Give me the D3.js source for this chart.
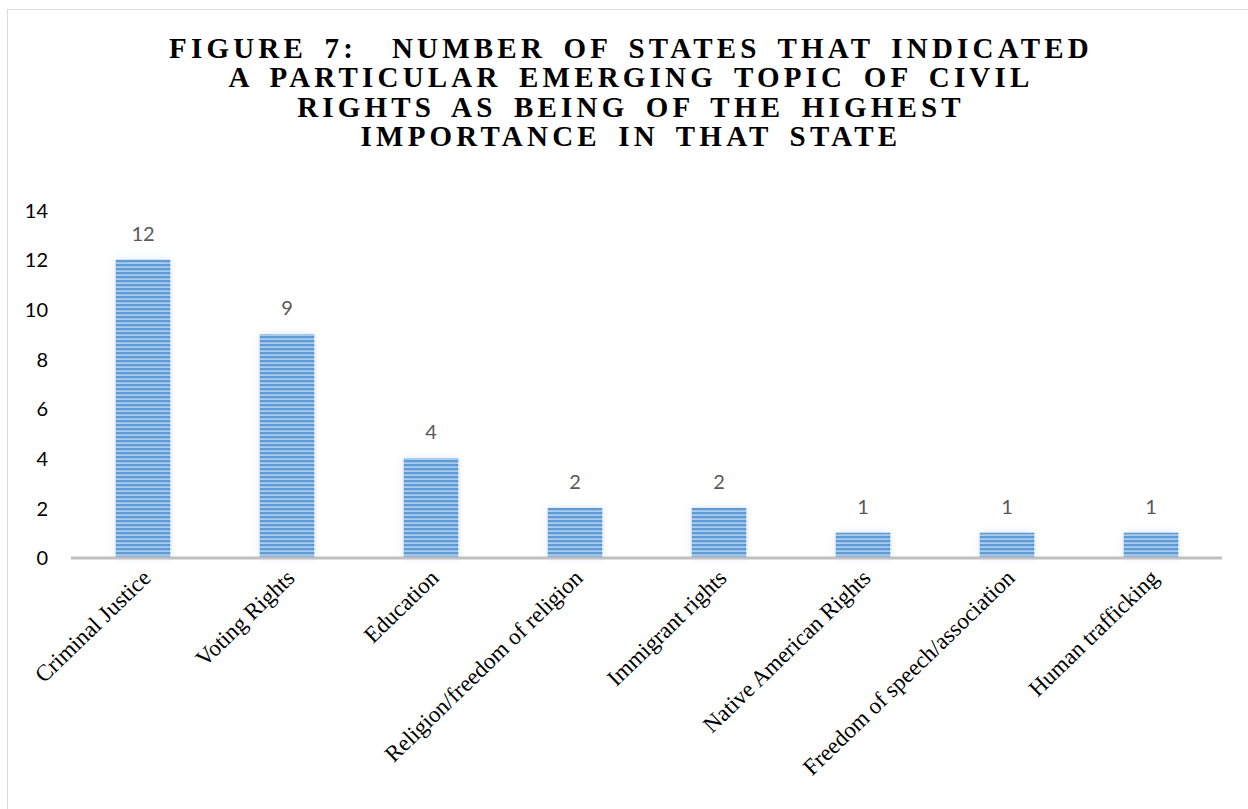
<!DOCTYPE html>
<html>
<head>
<meta charset="utf-8">
<script src="https://cdn.jsdelivr.net/npm/d3@7"></script>
<style>
  html, body { margin: 0; padding: 0; background: #fff; }
  svg { display: block; }
</style>
</head>
<body>
<svg id="chart" width="1248" height="809"></svg>
<script>
// Emerging civil-rights topics and the number of states ranking each highest
const categories = [
  "Criminal Justice",
  "Voting Rights",
  "Education",
  "Religion/freedom of religion",
  "Immigrant rights",
  "Native American Rights",
  "Freedom of speech/association",
  "Human trafficking"
];
const stateCounts = [12, 9, 4, 2, 2, 1, 1, 1];
const yTicks = [0, 2, 4, 6, 8, 10, 12, 14];
const titleLines = [
  "FIGURE 7:  NUMBER OF STATES THAT INDICATED",
  "A PARTICULAR EMERGING TOPIC OF CIVIL",
  "RIGHTS AS BEING OF THE HIGHEST",
  "IMPORTANCE IN THAT STATE"
];

const svg = d3.select("#chart");

// chart frame
svg.append("rect")
  .attr("x", 7.5).attr("y", 9.5)
  .attr("width", 1260).attr("height", 820)
  .attr("fill", "#fff")
  .attr("stroke", "#d9d9d9").attr("stroke-width", 1);

// striped fill for the bars
const defs = svg.append("defs");
const pat = defs.append("pattern")
  .attr("id", "stripes")
  .attr("patternUnits", "userSpaceOnUse")
  .attr("width", 8).attr("height", 4);
pat.append("rect").attr("width", 8).attr("height", 4).attr("fill", "#a9cbec");
pat.append("rect").attr("y", 0).attr("width", 8).attr("height", 2.2).attr("fill", "#5b9bd5");

const glow = defs.append("filter").attr("id", "glow")
  .attr("x", "-30%").attr("y", "-30%").attr("width", "160%").attr("height", "160%");
glow.append("feGaussianBlur").attr("in", "SourceAlpha").attr("stdDeviation", 4).attr("result", "b");
glow.append("feFlood").attr("flood-color", "#dde9f5").attr("result", "c");
glow.append("feComposite").attr("in", "c").attr("in2", "b").attr("operator", "in").attr("result", "s");
const merge = glow.append("feMerge");
merge.append("feMergeNode").attr("in", "s");
merge.append("feMergeNode").attr("in", "SourceGraphic");

// title
svg.append("g")
  .selectAll("text")
  .data(titleLines)
  .join("text")
  .attr("x", 631)
  .attr("y", (d, i) => 58 + i * 29.3)
  .attr("text-anchor", "middle")
  .style("white-space", "pre")
  .attr("font-family", "'Liberation Serif', 'Times New Roman', serif")
  .attr("font-weight", "bold")
  .attr("font-size", 29)
  .attr("letter-spacing", 4.2)
  .attr("word-spacing", 6)
  .attr("fill", "#000")
  .text(d => d);

// scales
const x = d3.scaleBand()
  .domain(categories)
  .range([71, 1223])
  .paddingInner(0.62)
  .paddingOuter(0.31);

const y = d3.scaleLinear()
  .domain([0, 14])
  .range([557.5, 210]);

// y axis labels (no axis line)
const yAxis = d3.axisLeft(y).tickValues(yTicks).tickSize(0).tickPadding(0);
const yg = svg.append("g").attr("transform", "translate(48,0)").call(yAxis);
yg.select(".domain").remove();
yg.selectAll("text")
  .attr("font-family", "Lato, 'Open Sans', sans-serif")
  .attr("font-size", 20)
  .attr("fill", "#000")
  .attr("dy", "0.36em");

// bars
svg.append("g")
  .selectAll("rect")
  .data(categories)
  .join("rect")
  .attr("x", d => x(d))
  .attr("y", (d, i) => y(stateCounts[i]))
  .attr("width", x.bandwidth())
  .attr("height", (d, i) => y(0) - y(stateCounts[i]))
  .attr("fill", "url(#stripes)")
  .attr("filter", "url(#glow)");

// baseline
svg.append("line")
  .attr("x1", 71).attr("x2", 1222)
  .attr("y1", y(0) + 0.5).attr("y2", y(0) + 0.5)
  .attr("stroke", "#bfbfbf").attr("stroke-width", 3);

// value labels
svg.append("g")
  .selectAll("text")
  .data(categories)
  .join("text")
  .attr("x", d => x(d) + x.bandwidth() / 2)
  .attr("y", (d, i) => y(stateCounts[i]) - 19)
  .attr("text-anchor", "middle")
  .attr("font-family", "Lato, 'Open Sans', sans-serif")
  .attr("font-size", 20)
  .attr("fill", "#595959")
  .text((d, i) => stateCounts[i]);

// rotated category labels
const xAxis = d3.axisBottom(x).tickSize(0).tickPadding(0);
const xg = svg.append("g").attr("transform", `translate(0,${y(0)})`).call(xAxis);
xg.select(".domain").remove();
xg.selectAll("text")
  .attr("font-family", "'Liberation Serif', 'Times New Roman', serif")
  .attr("font-size", 23)
  .attr("fill", "#000")
  .attr("text-anchor", "end")
  .attr("dy", 0)
  .attr("y", 0)
  .attr("transform", "translate(9,22) rotate(-44)");
</script>
</body>
</html>
